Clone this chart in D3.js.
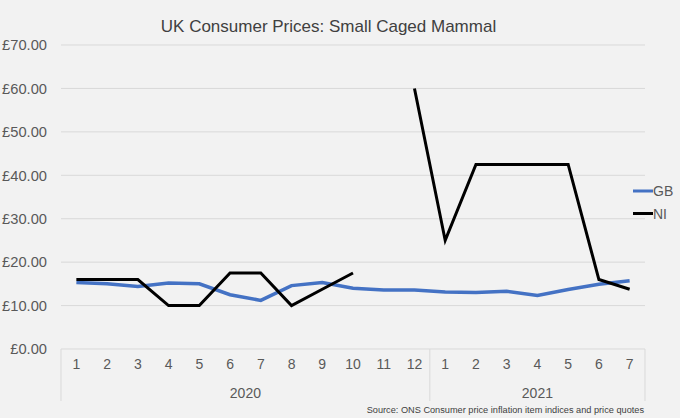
<!DOCTYPE html>
<html><head><meta charset="utf-8">
<script src="https://cdn.jsdelivr.net/npm/d3@7"></script>
<style>html,body{margin:0;padding:0;background:#f2f2f2;}svg{display:block;font-family:"Liberation Sans",Arial,sans-serif;}</style>
</head><body>
<svg id="c" width="680" height="418"></svg>
<script>
const months = ["1","2","3","4","5","6","7","8","9","10","11","12","1","2","3","4","5","6","7"];
const years = [{label:"2020", count:12},{label:"2021", count:7}];
const gbValues = [15.3,15.0,14.4,15.2,15.0,12.5,11.2,14.6,15.3,14.0,13.6,13.6,13.1,13.0,13.3,12.3,13.7,14.9,15.7];
const niValues = [16.0,16.0,16.0,10.0,10.0,17.5,17.5,10.0,13.75,17.5,null,60.0,25.0,42.5,42.5,42.5,42.5,16.0,13.75];
const yTicks = [0,10,20,30,40,50,60,70];
const seriesNames = ["GB","NI"];
const seriesColors = ["#4472C4","#000000"];

(function(){
const svg = d3.select("#c");
const pL = 61, pR = 645, pT = 45, pB = 349;
const idx = d3.range(months.length);
const x = d3.scaleBand().domain(idx).range([pL, pR]).padding(0);
const y = d3.scaleLinear().domain([0,70]).range([pB, pT]);

svg.append("rect").attr("width",680).attr("height",418).attr("fill","#f2f2f2");

// gridlines
svg.append("g").selectAll("line").data(yTicks.filter(d=>d>0)).join("line")
  .attr("x1",pL).attr("x2",pR).attr("y1",d=>y(d)).attr("y2",d=>y(d))
  .attr("stroke","#d9d9d9").attr("stroke-width",1);

// y axis labels
const yAxis = d3.axisLeft(y).tickValues(yTicks).tickFormat(d=>"£"+d3.format(".2f")(d)).tickSize(0).tickPadding(14);
const yg = svg.append("g").attr("transform",`translate(${pL},0)`).call(yAxis);
yg.select(".domain").remove();
yg.selectAll("text").attr("fill","#595959").style("font-size","14.7px").style("font-family","Liberation Sans, Arial, sans-serif");

// category axis
svg.append("line").attr("x1",pL).attr("x2",pR).attr("y1",pB).attr("y2",pB).attr("stroke","#d9d9d9").attr("stroke-width",1);
const xAxis = d3.axisBottom(x).tickFormat(i=>months[i]).tickSize(0).tickPadding(10);
const xg = svg.append("g").attr("transform",`translate(0,${pB})`).call(xAxis);
xg.select(".domain").remove();
xg.selectAll("text").attr("fill","#595959").style("font-size","14px").style("font-family","Liberation Sans, Arial, sans-serif");

// year separators
let cum = 0;
const seps = [0];
years.forEach(yr=>{cum+=yr.count; seps.push(cum);});
const sepX = d => d<months.length ? x(d) : x(months.length-1)+x.bandwidth();
svg.append("g").selectAll("line").data(seps).join("line")
  .attr("x1",sepX).attr("x2",sepX)
  .attr("y1",pB).attr("y2",401).attr("stroke","#d9d9d9").attr("stroke-width",1);
let start = 0;
years.forEach(yr=>{
  const x0 = x(start), x1 = x(start+yr.count-1)+x.bandwidth();
  svg.append("text").attr("x",(x0+x1)/2).attr("y",398).attr("text-anchor","middle")
    .attr("fill","#595959").style("font-size","14px").text(yr.label);
  start += yr.count;
});

// lines
const line = d3.line().defined(d=>d.v!==null).x(d=>x(d.i)+x.bandwidth()/2).y(d=>y(d.v));
[gbValues,niValues].forEach((vals,k)=>{
  svg.append("path").datum(vals.map((v,i)=>({i,v})))
    .attr("d",line).attr("fill","none").attr("stroke",seriesColors[k])
    .attr("stroke-width",k===0?3.5:3).attr("stroke-linejoin","miter").attr("stroke-linecap","butt");
});

// title
svg.append("text").attr("x",328.5).attr("y",31.5).attr("text-anchor","middle")
  .attr("fill","#404040").style("font-size","17px").text("UK Consumer Prices: Small Caged Mammal");

// legend
seriesNames.forEach((n,k)=>{
  const ly = 191 + k*22.5;
  svg.append("line").attr("x1",633).attr("x2",653).attr("y1",ly).attr("y2",ly)
    .attr("stroke",seriesColors[k]).attr("stroke-width",3);
  svg.append("text").attr("x",653).attr("y",ly+5).attr("fill","#595959").style("font-size","14px").text(n);
});

// source
svg.append("text").attr("x",644).attr("y",413).attr("text-anchor","end")
  .attr("fill","#404040").style("font-size","9.2px").text("Source: ONS Consumer price inflation item indices and price quotes");
})();
</script>
</body></html>
